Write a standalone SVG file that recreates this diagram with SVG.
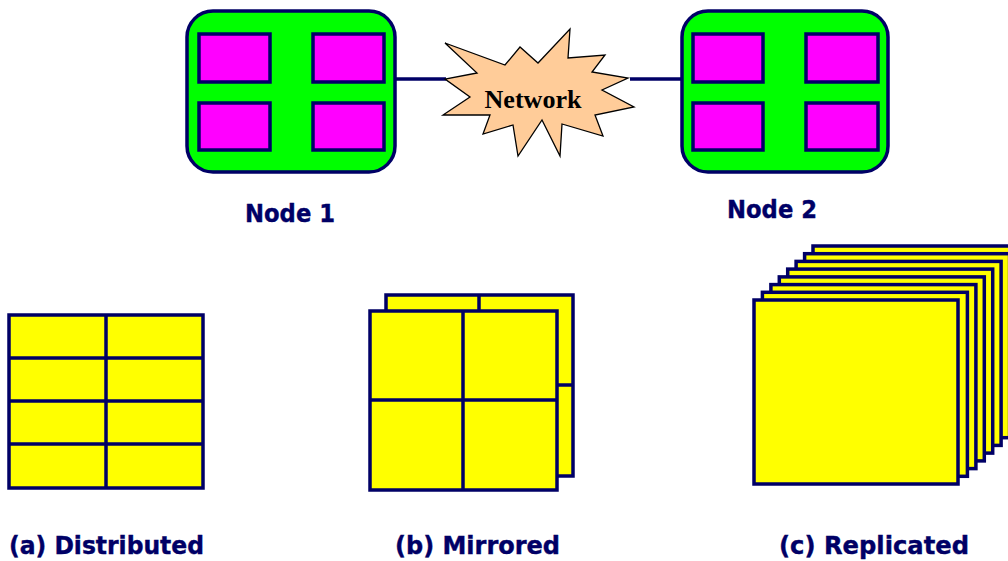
<svg xmlns="http://www.w3.org/2000/svg" width="1008" height="561" viewBox="0 0 1008 561">
  <style>
    .node { fill: #00ff00; stroke: #000066; stroke-width: 3.5; }
    .cpu { fill: #ff00ff; stroke: #000066; stroke-width: 3.5; }
    .link { stroke: #000066; stroke-width: 3.5; fill: none; }
    .cloud { fill: #ffcc99; stroke: #000000; stroke-width: 1.3; stroke-linejoin: miter; }
    .cell { fill: #ffff00; stroke: #000066; stroke-width: 3.5; }
    .line { stroke: #000066; stroke-width: 3.5; }
    .lbl { font-family: "DejaVu Sans", Verdana, sans-serif; font-weight: bold; fill: #000066; stroke: #000066; stroke-width: 0.4; }
    .net { font-family: "Liberation Serif", "Times New Roman", serif; font-weight: bold; font-size: 25px; fill: #000000; }
  </style>

  <!-- links between the nodes and the network -->
  <g id="connectors">
    <line class="link" x1="395" y1="79" x2="446" y2="79"/>
    <line class="link" x1="630" y1="79" x2="683" y2="79"/>
  </g>

  <!-- network cloud -->
  <g id="network">
    <polygon class="cloud" points="445,43 505,65 520,47 538,63 570,29 568,58 605,55 592,72 628,78 602,90 634,107 595,115 603,136 562,124 560,156 542,120 518,156 513,125 483,134 490,115 443,115 470,97 445,79 477,73"/>
    <text class="net" x="533" y="108" text-anchor="middle" textLength="97" lengthAdjust="spacingAndGlyphs">Network</text>
  </g>

  <!-- node 1 -->
  <g id="node1">
    <rect class="node" x="187" y="11" width="208" height="161" rx="26"/>
    <rect class="cpu" x="199" y="34" width="71" height="48"/>
    <rect class="cpu" x="313" y="34" width="71" height="48"/>
    <rect class="cpu" x="199" y="103" width="71" height="47"/>
    <rect class="cpu" x="313" y="103" width="71" height="47"/>
    <text class="lbl" x="245" y="222" font-size="25.5" textLength="90" lengthAdjust="spacingAndGlyphs">Node 1</text>
  </g>

  <!-- node 2 -->
  <g id="node2">
    <rect class="node" x="682" y="11" width="206" height="161" rx="26"/>
    <rect class="cpu" x="693" y="34" width="70" height="48"/>
    <rect class="cpu" x="806" y="34" width="72" height="48"/>
    <rect class="cpu" x="693" y="103" width="70" height="47"/>
    <rect class="cpu" x="806" y="103" width="72" height="47"/>
    <text class="lbl" x="727" y="218" font-size="25.5" textLength="90" lengthAdjust="spacingAndGlyphs">Node 2</text>
  </g>

  <!-- (a) distributed: one table split into eight parts -->
  <g id="distributed">
    <rect class="cell" x="9" y="315" width="194" height="173"/>
    <line class="line" x1="106" y1="315" x2="106" y2="488"/>
    <line class="line" x1="9" y1="358" x2="203" y2="358"/>
    <line class="line" x1="9" y1="401" x2="203" y2="401"/>
    <line class="line" x1="9" y1="444" x2="203" y2="444"/>
    <text class="lbl" x="9" y="554" font-size="24.5" textLength="195" lengthAdjust="spacingAndGlyphs">(a) Distributed</text>
  </g>

  <!-- (b) mirrored: two copies -->
  <g id="mirrored">
    <rect class="cell" x="386" y="295" width="187" height="181"/>
    <line class="line" x1="479" y1="295" x2="479" y2="385"/>
    <line class="line" x1="386" y1="385" x2="573" y2="385"/>
    <rect class="cell" x="370" y="311" width="187" height="179"/>
    <line class="line" x1="463" y1="311" x2="463" y2="490"/>
    <line class="line" x1="370" y1="400" x2="557" y2="400"/>
    <text class="lbl" x="395" y="554" font-size="24.5" textLength="165" lengthAdjust="spacingAndGlyphs">(b) Mirrored</text>
  </g>

  <!-- (c) replicated: stack of full copies -->
  <g id="replicated">
    <rect class="cell" x="813" y="246" width="205" height="184"/>
    <rect class="cell" x="804.6" y="253.7" width="205" height="184"/>
    <rect class="cell" x="796.1" y="261.4" width="205" height="184"/>
    <rect class="cell" x="787.7" y="269.1" width="205" height="184"/>
    <rect class="cell" x="779.3" y="276.9" width="205" height="184"/>
    <rect class="cell" x="770.9" y="284.6" width="205" height="184"/>
    <rect class="cell" x="762.4" y="292.3" width="205" height="184"/>
    <rect class="cell" x="754" y="300" width="204" height="184"/>
    <text class="lbl" x="779" y="554" font-size="24.5" textLength="190" lengthAdjust="spacingAndGlyphs">(c) Replicated</text>
  </g>
</svg>
